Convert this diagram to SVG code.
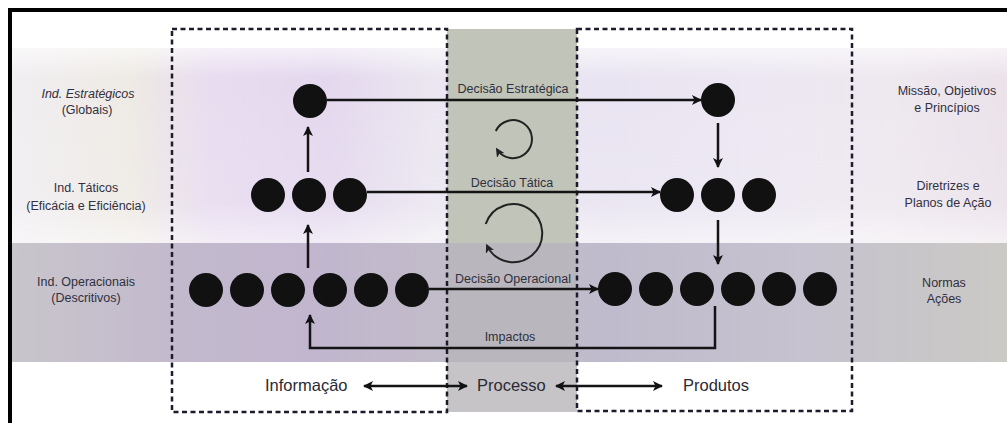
<svg xmlns="http://www.w3.org/2000/svg" width="1007" height="423" viewBox="0 0 1007 423">
<defs>
<linearGradient id="topband" x1="0" y1="0" x2="1" y2="0">
<stop offset="0" stop-color="#f1eef2"/>
<stop offset="0.12" stop-color="#eeeae4"/>
<stop offset="0.2" stop-color="#e8dcf0"/>
<stop offset="0.32" stop-color="#e4d8ee"/>
<stop offset="0.42" stop-color="#ebe6f0"/>
<stop offset="0.6" stop-color="#e9e4f1"/>
<stop offset="0.75" stop-color="#ece7f2"/>
<stop offset="0.88" stop-color="#eee8ef"/>
<stop offset="1" stop-color="#ebe2ea"/>
</linearGradient>
<linearGradient id="topfade" x1="0" y1="0" x2="0" y2="1">
<stop offset="0" stop-color="#ffffff" stop-opacity="0.6"/>
<stop offset="0.15" stop-color="#ffffff" stop-opacity="0"/>
<stop offset="0.8" stop-color="#ffffff" stop-opacity="0.1"/>
<stop offset="1" stop-color="#ffffff" stop-opacity="0.5"/>
</linearGradient>
<linearGradient id="grayband" x1="0" y1="0" x2="1" y2="0">
<stop offset="0" stop-color="#c8c5cb"/>
<stop offset="0.17" stop-color="#c3b9cd"/>
<stop offset="0.3" stop-color="#c1b6ce"/>
<stop offset="0.44" stop-color="#c2bcc9"/>
<stop offset="0.6" stop-color="#c0bbcc"/>
<stop offset="0.8" stop-color="#c6c2cf"/>
<stop offset="1" stop-color="#cbc9c5"/>
</linearGradient>
<marker id="ah" viewBox="0 0 10 10" refX="9" refY="5" markerWidth="10" markerHeight="10" markerUnits="userSpaceOnUse" orient="auto-start-reverse">
<path d="M0,0 L10,5 L0,10 L2.5,5 Z" fill="#111"/>
</marker>
<marker id="ahs" viewBox="0 0 10 10" refX="8" refY="5" markerWidth="9" markerHeight="9" markerUnits="userSpaceOnUse" orient="auto">
<path d="M0,0 L10,5 L0,10 L2.5,5 Z" fill="#222"/>
</marker>
</defs>
<style>
.lbl{font-family:"Liberation Sans",Arial,sans-serif;fill:#30303f;font-size:12.5px;text-anchor:middle}
.big{font-family:"Liberation Sans",Arial,sans-serif;fill:#2a2a36;font-size:16.5px}
.dot{fill:#111}
.box{fill:none;stroke:#1c1c2c;stroke-width:2.5;stroke-dasharray:5 3.5}
.con{fill:none;stroke:#141414;stroke-width:2.5}
.rot{fill:none;stroke:#222;stroke-width:2}
</style>
<rect x="0" y="0" width="1007" height="423" fill="#ffffff"/>
<g id="background">
<rect x="12" y="48" width="995" height="195" fill="url(#topband)"/>
<rect x="12" y="48" width="995" height="195" fill="url(#topfade)"/>
<rect x="12" y="243" width="995" height="119" fill="url(#grayband)"/>
<rect x="447" y="29" width="130" height="383" fill="#c1c4b8"/>
<rect x="447" y="243" width="130" height="119" fill="#b9b7bd"/>
<rect x="447" y="362" width="130" height="50" fill="#c6c4c6"/>
</g>
<g id="frame">
<rect x="8" y="8" width="999" height="4" fill="#000"/>
<rect x="8" y="8" width="4" height="415" fill="#000"/>
</g>
<g id="boxes">
<rect id="box-informacao" class="box" x="172" y="29" width="275" height="383"/>
<rect id="box-produtos" class="box" x="577" y="29" width="275" height="382"/>
</g>
<g id="connectors">
<line class="con" x1="327" y1="100" x2="701" y2="100" marker-end="url(#ah)"/>
<line class="con" x1="367" y1="192" x2="660" y2="192" marker-end="url(#ah)"/>
<line class="con" x1="429" y1="289" x2="598" y2="289" marker-end="url(#ah)"/>
<line class="con" x1="308" y1="172" x2="308" y2="127" marker-end="url(#ah)"/>
<line class="con" x1="308" y1="268" x2="308" y2="225" marker-end="url(#ah)"/>
<line class="con" x1="718" y1="123" x2="718" y2="167" marker-end="url(#ah)"/>
<line class="con" x1="718" y1="220" x2="718" y2="264" marker-end="url(#ah)"/>
<path class="con" d="M715,306 V348 H310 V315" marker-end="url(#ah)"/>
<line class="con" x1="364" y1="386" x2="467" y2="386" marker-start="url(#ah)" marker-end="url(#ah)"/>
<line class="con" x1="556" y1="386" x2="662" y2="386" marker-start="url(#ah)" marker-end="url(#ah)"/>
<path class="rot" d="M495.8,131 A19,19 0 1 1 496.9,149.3" marker-end="url(#ahs)"/>
<path class="rot" d="M485.7,224 A29,29 0 1 1 486.9,245.3" marker-end="url(#ahs)"/>
</g>
<g id="node-estrategico-info"><circle class="dot" cx="310" cy="101" r="17"/></g>
<g id="node-tatico-info">
<circle class="dot" cx="268" cy="195" r="17"/>
<circle class="dot" cx="309" cy="195" r="17"/>
<circle class="dot" cx="350" cy="195" r="17"/>
</g>
<g id="node-operacional-info">
<circle class="dot" cx="206" cy="290" r="17"/>
<circle class="dot" cx="247" cy="290" r="17"/>
<circle class="dot" cx="288" cy="290" r="17"/>
<circle class="dot" cx="330" cy="290" r="17"/>
<circle class="dot" cx="371" cy="290" r="17"/>
<circle class="dot" cx="412" cy="290" r="17"/>
</g>
<g id="node-estrategico-prod"><circle class="dot" cx="718" cy="100" r="17"/></g>
<g id="node-tatico-prod">
<circle class="dot" cx="677" cy="195" r="17"/>
<circle class="dot" cx="718" cy="195" r="17"/>
<circle class="dot" cx="759" cy="195" r="17"/>
</g>
<g id="node-operacional-prod">
<circle class="dot" cx="615" cy="289" r="17"/>
<circle class="dot" cx="656" cy="289" r="17"/>
<circle class="dot" cx="697" cy="289" r="17"/>
<circle class="dot" cx="738" cy="289" r="17"/>
<circle class="dot" cx="779" cy="289" r="17"/>
<circle class="dot" cx="820" cy="289" r="17"/>
</g>
<g id="labels-left">
<text class="lbl" x="88" y="98" font-style="italic">Ind. Estratégicos</text>
<text class="lbl" x="87" y="114">(Globais)</text>
<text class="lbl" x="86" y="192">Ind. Táticos</text>
<text class="lbl" x="86" y="210">(Eficácia e Eficiência)</text>
<text class="lbl" x="86" y="286">Ind. Operacionais</text>
<text class="lbl" x="86" y="302">(Descritivos)</text>
</g>
<g id="labels-right">
<text class="lbl" x="947" y="95">Missão, Objetivos</text>
<text class="lbl" x="947" y="112">e Princípios</text>
<text class="lbl" x="948" y="190">Diretrizes e</text>
<text class="lbl" x="948" y="207">Planos de Ação</text>
<text class="lbl" x="944" y="287">Normas</text>
<text class="lbl" x="944" y="303">Ações</text>
</g>
<g id="labels-connectors">
<text class="lbl" x="513" y="93">Decisão Estratégica</text>
<text class="lbl" x="512" y="187">Decisão Tática</text>
<text class="lbl" x="513" y="283">Decisão Operacional</text>
<text class="lbl" x="510" y="341">Impactos</text>
</g>
<g id="labels-bottom">
<text class="big" x="265" y="391">Informação</text>
<text class="big" x="477" y="391">Processo</text>
<text class="big" x="683" y="391">Produtos</text>
</g>
</svg>
